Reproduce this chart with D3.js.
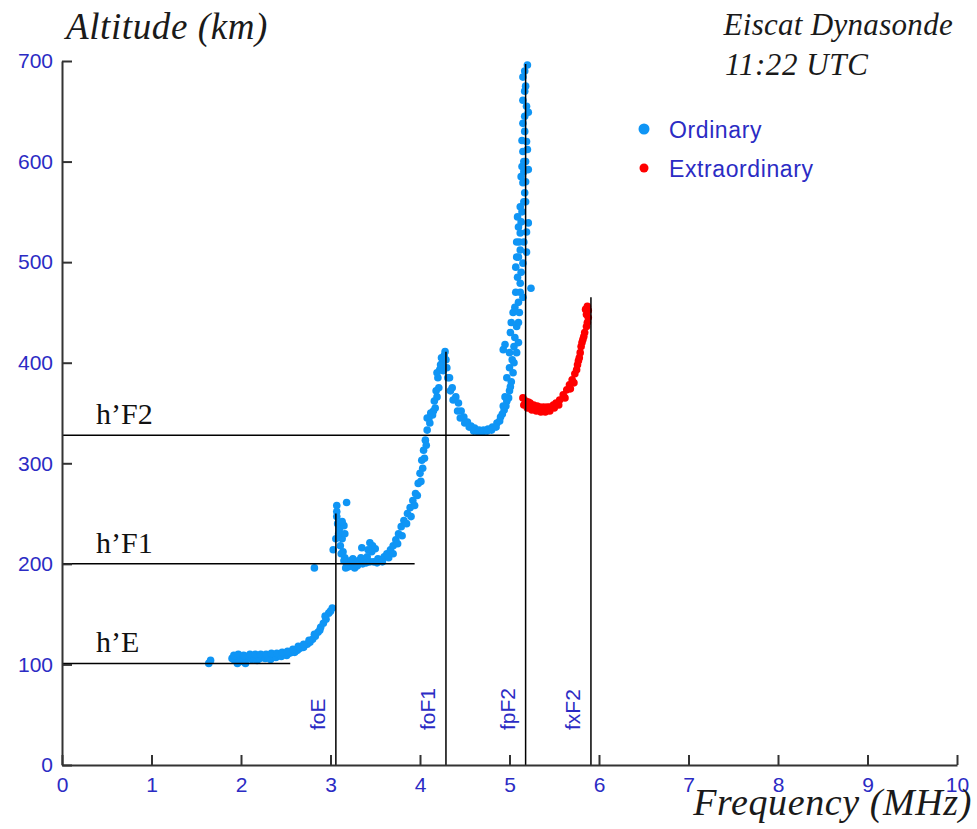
<!DOCTYPE html>
<html><head><meta charset="utf-8">
<script src="https://cdn.jsdelivr.net/npm/d3@7"></script>
<style>body{margin:0;background:#fff}svg{display:block}</style>
</head><body>
<svg id="c" width="977" height="829"></svg>
<script>
// ---- data ----
const xTicks = [0,1,2,3,4,5,6,7,8,9,10];
const yTicks = [0,100,200,300,400,500,600,700];
const ordinary = [
 [1.64,101],[1.66,104],[1.90,106],[1.93,104],[1.96,107],[1.99,105],[2.02,103],[2.05,106],[2.08,108],[2.12,105],
 [2.15,107],[2.18,104],[2.21,106],[2.24,108],[2.27,106],[2.30,107],[2.33,105],[2.36,108],[2.39,107],[2.42,109],
 [2.45,108],[2.48,110],[2.51,109],[2.54,111],[2.57,112],[2.60,112],[2.63,114],[2.66,116],[2.70,117],[2.74,120],
 [2.77,122],[2.80,125],[2.83,128],[2.86,132],[2.89,137],[2.92,141],[2.95,145],[2.98,151],[3.02,156],
 [1.92,109],[1.97,110],[2.03,109],[2.10,110],[2.16,110],[2.22,110],[2.28,110],[2.34,111],[2.40,111],[2.46,112],
 [2.52,113],[2.58,115],[2.64,118],[2.70,120],[2.76,124],[2.82,130],[2.88,134],[2.94,148],[3.00,153],[1.96,101],[2.05,101],
 [2.82,196],
 [3.07,258],[3.07,252],[3.07,247],[3.10,235],[3.12,229],[3.15,238],[3.13,225],[3.11,218],[3.14,212],[3.16,206],
 [3.18,200],[3.20,197],[3.22,203],[3.25,205],[3.28,200],[3.31,203],[3.34,206],[3.35,216],[3.38,203],[3.41,207],
 [3.44,221],[3.47,218],[3.50,215],[3.53,205],[3.56,204],[3.60,207],[3.63,210],[3.67,214],[3.70,218],[3.73,224],
 [3.76,230],[3.79,237],[3.82,243],[3.86,250],[3.89,256],[3.92,263],[3.95,270],[3.98,280],[4.00,290],[4.02,303],
 [4.04,313],[4.06,323],[4.08,333],[4.10,345],[4.12,350],[4.15,352],[4.17,355],[4.19,366],[4.21,375],[4.20,385],
 [4.22,393],[4.25,400],[4.27,407],[4.28,411],[3.18,261],[3.03,214],
 [3.08,240],[3.09,230],[3.06,225],[3.12,210],[3.15,203],[3.17,196],[3.23,198],[3.27,196],[3.30,198],[3.36,200],
 [3.40,201],[3.44,202],[3.48,202],[3.52,201],[3.58,202],[3.46,212],[3.42,214],[3.13,242],[3.16,230],
 [3.65,206],[3.70,210],[3.75,220],[3.80,228],[3.85,240],[3.90,247],[3.94,258],[3.97,268],[4.01,282],[4.03,295],
 [4.05,305],[4.07,318],[4.08,345],[4.11,340],[4.14,348],[4.16,362],[4.18,372],[4.19,390],[4.23,398],[4.24,405],
 [4.26,392],[4.29,403],
 [4.30,395],[4.33,385],[4.36,375],[4.40,366],[4.43,360],[4.46,352],[4.49,346],[4.53,341],[4.57,337],[4.61,335],
 [4.66,333],[4.71,333],[4.76,334],[4.81,336],[4.86,340],[4.90,346],[4.94,353],[4.97,362],[5.00,372],[5.02,381],
 [4.31,385],[4.34,372],[4.37,363],[4.42,352],[4.45,345],[4.50,340],[4.55,336],[4.60,332],[4.65,331],[4.70,331],
 [4.75,332],[4.80,333],[4.85,336],[4.89,342],[4.92,349],[4.96,357],[4.99,365],[5.01,376],
 [5.04,390],[4.93,357],[4.95,366],[4.97,385],[5.00,395],[5.03,403],[4.93,413],[5.05,416],[5.08,436],[5.04,450],
 [5.12,479],[5.15,465],[5.10,460],[5.06,455],[4.95,418],[5.01,430],[5.24,474],
 [5.00,410],[5.06,425],[5.10,440],[5.02,440],[5.07,470],[5.12,470],[5.13,490],[5.08,505],[5.11,520],[5.13,540],
 [5.10,535],[5.14,550],[5.16,560],[5.18,580],[5.16,590],[5.18,600],[5.15,610],[5.19,620],[5.17,645],[5.19,655],
 [5.17,670],[5.17,690],[5.16,520],[5.19,510],[5.05,400],[5.08,410],[5.10,420],[5.11,450],
 [5.09,485],[5.15,499],[5.12,512],[5.08,520],[5.12,529],[5.21,539],[5.09,545],[5.12,555],[5.17,569],[5.15,579],
 [5.21,592],[5.14,595],[5.20,612],[5.14,621],[5.15,638],[5.21,649],[5.15,661],[5.15,684],[5.20,696],[5.18,675],
 [5.17,630],[5.16,600],[5.13,585],[5.18,560],[5.10,505],[5.07,495],[5.19,530]
];
const extraordinary = [
 [5.15,365],[5.18,362],[5.21,361],[5.23,360],[5.27,358],[5.31,357],[5.34,356],[5.38,356],[5.42,356],[5.45,356],
 [5.49,358],[5.52,360],[5.56,363],[5.60,368],[5.64,373],[5.67,378],[5.70,383],[5.73,389],[5.75,393],[5.77,402],
 [5.79,410],[5.80,416],[5.82,423],[5.84,430],[5.86,436],[5.87,440],[5.87,456],[5.85,453],[5.88,445],
 [5.16,358],[5.20,355],[5.25,353],[5.30,352],[5.35,351],[5.40,351],[5.45,352],[5.50,355],[5.55,358],[5.62,365],
 [5.68,374],[5.72,380],[5.76,398],[5.78,405],[5.81,420],[5.83,426],[5.86,448],[5.88,452]
];
const heightNames = ["h’E","h’F1","h’F2"];
const heightValues = [101,200,328];
const heightEnds = [2.55,3.94,5.0];
const freqNames = ["foE","foF1","fpF2","fxF2"];
const freqValues = [3.06,4.29,5.18,5.91];
const freqTops = [250,411,697,465];
const seriesNames = ["Ordinary","Extraordinary"];

// ---- chart ----
const svg = d3.select("#c");
const x = d3.scaleLinear().domain([0,10]).range([62,957]);
const y = d3.scaleLinear().domain([0,700]).range([765,61]);
const BLUE = "#0f95f5", RED = "#ff0000", TXT = "#2b2bc4";

// points
svg.append("g").selectAll("circle").data(ordinary).join("circle")
  .attr("cx",d=>x(d[0])).attr("cy",d=>y(d[1])).attr("r",3.8).attr("fill",BLUE);
svg.append("g").selectAll("circle").data(extraordinary).join("circle")
  .attr("cx",d=>x(d[0])).attr("cy",d=>y(d[1])).attr("r",3.8).attr("fill",RED);

// reference lines
const ref = svg.append("g").attr("stroke","#000").attr("stroke-width",1.5);
heightValues.forEach((h,i)=>{
  ref.append("line").attr("x1",x(0)).attr("x2",x(heightEnds[i])).attr("y1",y(h)).attr("y2",y(h));
});
freqValues.forEach((f,i)=>{
  ref.append("line").attr("x1",x(f)).attr("x2",x(f)).attr("y1",y(0)).attr("y2",y(freqTops[i]));
});
heightValues.forEach((h,i)=>{
  svg.append("text").attr("x",96).attr("y",y(h)-11).text(heightNames[i])
    .attr("font-family","Liberation Serif").attr("font-size",30).attr("fill","#111");
});
freqValues.forEach((f,i)=>{
  svg.append("text").attr("transform",`translate(${x(f)-11},730) rotate(-90)`).text(freqNames[i])
    .attr("font-family","Liberation Sans").attr("font-size",21).attr("fill",TXT);
});

// axes
const xa = svg.append("g").attr("transform",`translate(0,${y(0)})`)
  .call(d3.axisBottom(x).tickValues(xTicks).tickSizeInner(-10).tickSizeOuter(0).tickPadding(12).tickFormat(d3.format("d")));
const ya = svg.append("g").attr("transform",`translate(${x(0)},0)`)
  .call(d3.axisLeft(y).tickValues(yTicks).tickSizeInner(-10).tickSizeOuter(0).tickPadding(9).tickFormat(d3.format("d")));
[xa,ya].forEach(a=>{
  a.selectAll("path,line").attr("stroke","#333").attr("stroke-width",2);
  a.selectAll("text").attr("fill",TXT).attr("font-family","Liberation Sans").attr("font-size",21);
});

// titles
const it = (t,xx,yy,size,anchor)=>svg.append("text").text(t).attr("x",xx).attr("y",yy)
  .attr("font-family","Liberation Serif").attr("font-style","italic").attr("font-size",size)
  .attr("fill","#1a1a1a").attr("text-anchor",anchor||"start");
it("Altitude (km)",66,39,37).attr("letter-spacing",0.6);
it("Eiscat Dynasonde",953,35,31,"end").attr("letter-spacing",0.3);
it("11:22 UTC",725,75,31).attr("letter-spacing",0.6);
it("Frequency (MHz)",972,815,38,"end").attr("letter-spacing",0.6);

// legend
const lg = svg.append("g");
[BLUE,RED].forEach((c,i)=>{
  lg.append("circle").attr("cx",644).attr("cy",129+i*39).attr("r",i?4.5:5.5).attr("fill",c);
  lg.append("text").attr("x",669).attr("y",138+i*39).text(seriesNames[i])
    .attr("font-family","Liberation Sans").attr("font-size",23).attr("letter-spacing",0.6).attr("fill",TXT);
});
</script>
</body></html>
